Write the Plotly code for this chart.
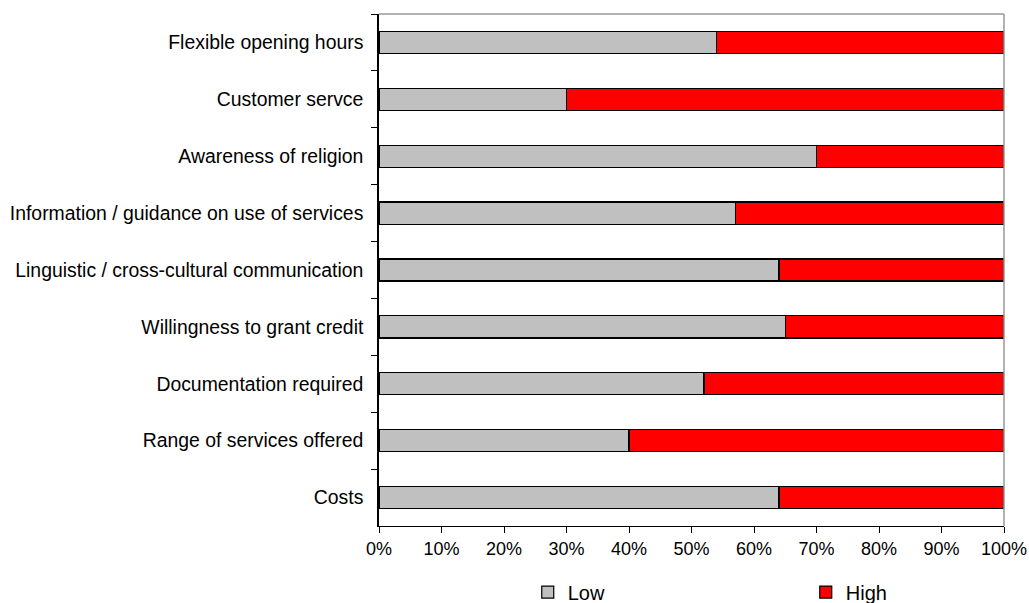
import plotly.graph_objects as go

# Categories listed top to bottom as they appear on the chart
categories = [
    "Flexible opening hours",
    "Customer servce",
    "Awareness of religion",
    "Information / guidance on use of services",
    "Linguistic / cross-cultural communication",
    "Willingness to grant credit",
    "Documentation required",
    "Range of services offered",
    "Costs",
]
low_share = [54, 30, 70, 57, 64, 65, 52, 40, 64]
high_share = [46, 70, 30, 43, 36, 35, 48, 60, 36]
x_ticks = [0, 10, 20, 30, 40, 50, 60, 70, 80, 90, 100]
x_tick_text = [f"{v}%" for v in x_ticks]

FONT = "Liberation Sans, Arial, sans-serif"

fig = go.Figure()
fig.add_trace(go.Bar(
    y=categories, x=low_share, name="Low", orientation="h",
    marker=dict(color="#C0C0C0", line=dict(color="#000000", width=1.2)),
))
fig.add_trace(go.Bar(
    y=categories, x=high_share, name="High", orientation="h",
    marker=dict(color="#FF0000", line=dict(color="#000000", width=1.2)),
))

fig.update_layout(
    barmode="stack",
    bargap=0.61,
    width=1029, height=603,
    margin=dict(l=379, r=25, t=14, b=77, autoexpand=False),
    paper_bgcolor="white", plot_bgcolor="white",
    font=dict(family=FONT, size=19, color="#000000"),
    legend=dict(
        orientation="h", x=0.238, xanchor="left", y=-0.129, yanchor="middle",
        entrywidth=233, font=dict(size=20), traceorder="normal",
    ),
    xaxis=dict(
        range=[0, 100], tickvals=x_ticks, ticktext=x_tick_text,
        showgrid=False, zeroline=False, automargin=False,
        showline=True, linecolor="#000000", linewidth=1.3,
        ticks="outside", ticklen=6, tickcolor="#000000",
        tickfont=dict(size=18),
    ),
    yaxis=dict(
        autorange="reversed", showgrid=False, automargin=False,
        showline=True, linecolor="#000000", linewidth=1.5,
        ticks="outside", ticklen=6, tickcolor="#000000",
        tickson="boundaries", ticklabelstandoff=10,
        tickfont=dict(size=19.4),
    ),
    shapes=[
        # gray frame along the top and right of the plot area
        dict(type="line", xref="paper", yref="paper", x0=0, x1=1, y0=1, y1=1,
             line=dict(color="#999999", width=1.5)),
        dict(type="line", xref="paper", yref="paper", x0=1, x1=1, y0=0, y1=1,
             line=dict(color="#999999", width=1.5)),
    ],
)

fig.write_html("out.html")
